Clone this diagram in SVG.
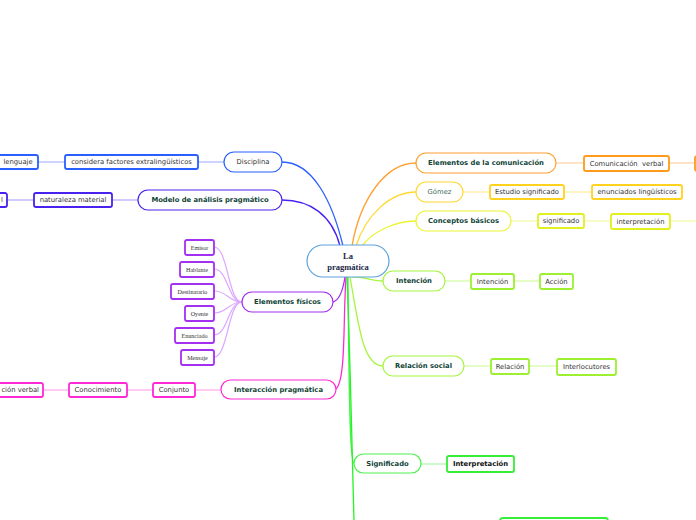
<svg xmlns="http://www.w3.org/2000/svg" width="696" height="520" viewBox="0 0 696 520">
<style>
.pill{fill:#fff;stroke-width:1.2}
.box{fill:#fff;stroke-width:1.8}
.t{font-family:"DejaVu Sans",Verdana,sans-serif;font-size:6.8px;fill:#333;text-anchor:middle;dominant-baseline:central}
.tb{font-family:"DejaVu Sans",Verdana,sans-serif;font-size:6.8px;font-weight:bold;fill:#0f4436;text-anchor:middle;dominant-baseline:central}
.ts{font-family:"Liberation Serif","Times New Roman",serif;font-size:6.1px;fill:#333;text-anchor:middle;dominant-baseline:central}
.c{fill:none;stroke-width:1.3}
.cl{fill:none;stroke-width:1.2}
</style>
<g id="connectors">
<path class="c" stroke="#2a5fff" d="M282,162 C312,162 332,200 343,246"/>
<path class="c" stroke="#4a22f0" d="M282,200 C310,200 332,215 340,246"/>
<path class="c" stroke="#a430f0" d="M333,302 C340,300 343,290 345,277"/>
<path class="c" stroke="#ff2ad6" d="M336,389 C346,380 343,320 346,277"/>
<path class="c" stroke="#ffa030" d="M416,163 C385,163 360,200 352,246"/>
<path class="c" stroke="#ffd830" d="M416,192 C390,192 366,215 356,246"/>
<path class="c" stroke="#eaf530" d="M416,221 C395,221 372,232 362,246"/>
<path class="c" stroke="#a6f540" d="M383,281 C370,281 362,276 352,277"/>
<path class="c" stroke="#a6f540" d="M383,366 C362,366 358,320 350,277"/>
<path class="c" stroke="#4ef04e" d="M354,463 C350,463 349,400 348,277"/>
<path class="c" stroke="#22f522" stroke-width="1.8" d="M347,277 C350,350 352,450 354,520"/>
<g stroke="#aab8ff" class="cl"><path d="M198,162 H224"/><path d="M38,162 H65"/></g>
<g stroke="#b0a8ff" class="cl"><path d="M112,200 H138"/><path d="M7,200 H34"/></g>
<g stroke="#dca8ff" class="cl">
<path d="M242,302 C228,302 228,247 214,247"/>
<path d="M242,302 C228,302 228,269 214,269"/>
<path d="M242,302 C228,302 228,291 214,291"/>
<path d="M242,302 C228,302 228,313 214,313"/>
<path d="M242,302 C228,302 228,335 214,335"/>
<path d="M242,302 C228,302 228,357 214,357"/>
</g>
<g stroke="#ffa8ee" class="cl"><path d="M195,390 H221"/><path d="M127,390 H153"/><path d="M43,390 H69"/></g>
<g stroke="#ffd0a0" class="cl"><path d="M556,163 H584"/><path d="M669,163 H696"/></g>
<g stroke="#ffec9c" class="cl"><path d="M463,192 H490"/><path d="M564,192 H592"/></g>
<g stroke="#f2f8a0" class="cl"><path d="M511,221 H538"/><path d="M584,221 H611"/><path d="M670,221 H696"/></g>
<g stroke="#d2faa0" class="cl"><path d="M445,281 H471"/><path d="M514,281 H540"/><path d="M464,366 H491"/><path d="M529,366 H557"/></g>
<g stroke="#a8f8a8" class="cl"><path d="M421,464 H447"/></g>
</g>
<g id="center"><rect x="307" y="245" width="82" height="32" rx="16" fill="#fff" stroke="#5aa2dc" stroke-width="1.2"/>
<text x="348" y="256" font-family="Liberation Serif,serif" font-size="8.5" font-weight="bold" fill="#1b2a4a" text-anchor="middle" dominant-baseline="central">La</text>
<text x="348" y="267" font-family="Liberation Serif,serif" font-size="8.5" font-weight="bold" fill="#1b2a4a" text-anchor="middle" dominant-baseline="central">pragmática</text></g>
<g id="disciplina"><rect class="pill" x="224" y="152" width="58" height="20" rx="10" stroke="#2a5fff"/><text class="t" x="253" y="162">Disciplina</text></g>
<g id="considera"><rect class="box" x="65" y="155" width="133" height="14" rx="2" stroke="#2a5fff"/><text class="t" x="131.5" y="162">considera factores extralingüísticos</text></g>
<g id="lenguaje"><rect class="box" x="-10" y="155" width="48" height="14" rx="2" stroke="#2a5fff"/><text class="t" x="18" y="162">lenguaje</text></g>
<g id="modelo"><rect class="pill" x="138" y="190" width="144" height="20" rx="10" stroke="#4a22f0"/><text class="tb" x="210" y="200">Modelo de análisis pragmático</text></g>
<g id="naturaleza"><rect class="box" x="34" y="193" width="78" height="14" rx="2" stroke="#4a22f0"/><text class="t" x="73" y="200">naturaleza material</text></g>
<g id="cut-l"><rect class="box" x="-20" y="193" width="27" height="14" rx="2" stroke="#4a22f0"/><text class="t" x="2" y="200">l</text></g>
<g id="elementos-fisicos"><rect class="pill" x="242" y="292" width="91" height="20" rx="10" stroke="#a430f0"/><text class="tb" x="287.5" y="302">Elementos físicos</text></g>
<g id="emisor"><rect class="box" x="185" y="240" width="29" height="15" rx="2" stroke="#a430f0"/><text class="ts" x="199.5" y="247.5">Emisor</text></g>
<g id="hablante"><rect class="box" x="180" y="262" width="34" height="15" rx="2" stroke="#a430f0"/><text class="ts" x="197" y="269.5">Hablante</text></g>
<g id="destinatario"><rect class="box" x="171" y="284" width="43" height="15" rx="2" stroke="#a430f0"/><text class="ts" x="192.5" y="291.5">Destinatario</text></g>
<g id="oyente"><rect class="box" x="185" y="306" width="29" height="15" rx="2" stroke="#a430f0"/><text class="ts" x="199.5" y="313.5">Oyente</text></g>
<g id="enunciado"><rect class="box" x="175" y="328" width="39" height="15" rx="2" stroke="#a430f0"/><text class="ts" x="194.5" y="335.5">Enunciado</text></g>
<g id="mensaje"><rect class="box" x="181" y="350" width="33" height="15" rx="2" stroke="#a430f0"/><text class="ts" x="197.5" y="357.5">Mensaje</text></g>
<g id="interaccion"><rect class="pill" x="221" y="380" width="115" height="19" rx="9.5" stroke="#ff2ad6"/><text class="tb" x="278.5" y="389.5">Interacción pragmática</text></g>
<g id="conjunto"><rect class="box" x="153" y="383" width="42" height="14" rx="2" stroke="#ff2ad6"/><text class="t" x="174" y="390">Conjunto</text></g>
<g id="conocimiento"><rect class="box" x="69" y="383" width="58" height="14" rx="2" stroke="#ff2ad6"/><text class="t" x="98" y="390">Conocimiento</text></g>
<g id="cion-verbal"><rect class="box" x="-20" y="383" width="63" height="14" rx="2" stroke="#ff2ad6"/><text class="t" x="39" y="390" style="text-anchor:end">ción verbal</text></g>
<g id="elementos-comunicacion"><rect class="pill" x="416" y="153" width="140" height="20" rx="10" stroke="#ffa030"/><text class="tb" x="486" y="163">Elementos de la comunicación</text></g>
<g id="comunicacion-verbal"><rect class="box" x="584" y="156" width="85" height="15" rx="2" stroke="#ff9a1a"/><text class="t" x="626.5" y="163.5" xml:space="preserve">Comunicación  verbal</text></g>
<g id="cut-orange"><rect class="box" x="695" y="156" width="20" height="15" rx="2" stroke="#ff9a1a"/></g>
<g id="gomez"><rect class="pill" x="416" y="182" width="47" height="20" rx="10" stroke="#ffd830"/><text class="t" x="439.5" y="192" style="fill:#3f6a5a">Gómez</text></g>
<g id="estudio"><rect class="box" x="490" y="185" width="74" height="14" rx="2" stroke="#ffd21e"/><text class="t" x="527" y="192">Estudio significado</text></g>
<g id="enunciados"><rect class="box" x="592" y="185" width="90" height="14" rx="2" stroke="#ffd21e"/><text class="t" x="637" y="192">enunciados lingüísticos</text></g>
<g id="conceptos"><rect class="pill" x="416" y="211" width="95" height="20" rx="10" stroke="#eaf530"/><text class="tb" x="463.5" y="221">Conceptos básicos</text></g>
<g id="significado-c"><rect class="box" x="538" y="214" width="46" height="14" rx="2" stroke="#e2f01e"/><text class="t" x="561" y="221">significado</text></g>
<g id="interpretacion-c"><rect class="box" x="611" y="214" width="59" height="15" rx="2" stroke="#e2f01e"/><text class="t" x="640.5" y="221.5">interpretación</text></g>
<g id="intencion"><rect class="pill" x="383" y="271" width="62" height="20" rx="10" stroke="#a6f540"/><text class="tb" x="414" y="281">Intención</text></g>
<g id="intencion2"><rect class="box" x="471" y="274" width="43" height="15" rx="2" stroke="#9cf030"/><text class="t" x="492.5" y="281.5">Intención</text></g>
<g id="accion"><rect class="box" x="540" y="274" width="33" height="15" rx="2" stroke="#9cf030"/><text class="t" x="556.5" y="281.5">Acción</text></g>
<g id="relacion-social"><rect class="pill" x="383" y="356" width="81" height="20" rx="10" stroke="#a6f540"/><text class="tb" x="423.5" y="366">Relación social</text></g>
<g id="relacion"><rect class="box" x="491" y="359" width="38" height="15" rx="2" stroke="#9cf030"/><text class="t" x="510" y="366.5">Relación</text></g>
<g id="interlocutores"><rect class="box" x="557" y="359" width="59" height="16" rx="2" stroke="#9cf030"/><text class="t" x="586.5" y="367">Interlocutores</text></g>
<g id="significado"><rect class="pill" x="354" y="454" width="67" height="19" rx="9.5" stroke="#4ef04e"/><text class="tb" x="387.5" y="463.5">Significado</text></g>
<g id="interpretacion"><rect class="box" x="447" y="456" width="67" height="16" rx="2" stroke="#36ee36"/><text class="t" x="480.5" y="464" style="font-weight:bold;fill:#111">Interpretación</text></g>
<g id="bottom-box"><rect class="box" x="500" y="518" width="108" height="20" rx="3" stroke="#36ee36"/></g>
</svg>
